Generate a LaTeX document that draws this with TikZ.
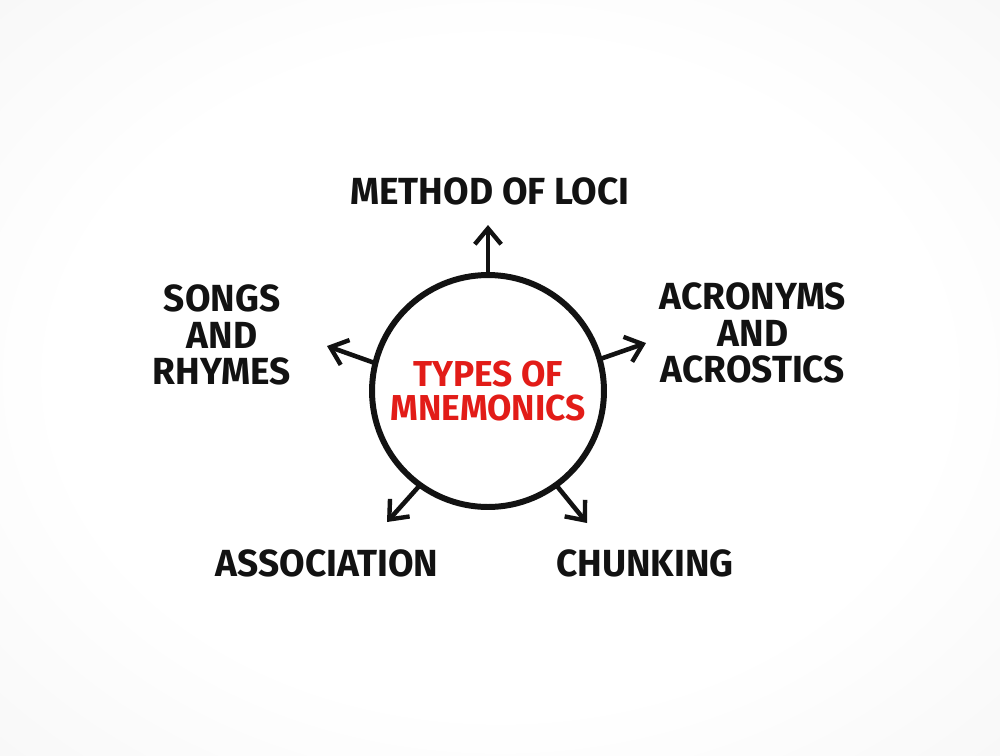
\documentclass[tikz,border=0pt]{standalone}
\usepackage{fontspec}
\setmainfont{Fira Sans}[FakeStretch=0.98]
\usetikzlibrary{arrows.meta}
\definecolor{mnInk}{RGB}{18,18,18}
\definecolor{mnRed}{RGB}{226,28,24}
\definecolor{mnBack}{RGB}{230,230,230}
\pgfdeclareradialshading{mnGlow}{\pgfpoint{0bp}{0bp}}{color(0bp)=(white); color(22bp)=(white); color(70bp)=(mnBack); color(100bp)=(mnBack)}

\begin{document}
\begin{tikzpicture}[x=0.02cm, y=-0.02cm,
  leaf/.style={font=\fontsize{21.5}{21}\selectfont\bfseries, text=mnInk, align=center, inner sep=0pt},
  spoke/.style={-{Straight Barb[length=9pt, width=15pt, line width=2.5pt]}, draw=mnInk, line width=2.6pt, line cap=round}]
  % Background
  \shade[shading=mnGlow] (0,0) rectangle (1000,755);

  % Hub
  \node[circle, draw=mnInk, line width=3.4pt, minimum size=4.64cm, inner sep=0pt,
        font=\fontsize{20.5}{19.5}\selectfont\bfseries, text=mnRed, align=center]
    (hub) at (488,391) {TYPES OF\\MNEMONICS};

  % Types
  \node[leaf] (loci) at (490,191) {METHOD OF LOCI};
  \node[leaf] (songs) at (222,335) {SONGS\\AND\\RHYMES};
  \node[leaf] (acro) at (753,333) {ACRONYMS\\AND\\ACROSTICS};
  \node[leaf] (assoc) at (327,563) {ASSOCIATION};
  \node[leaf] (chunk) at (645,563) {CHUNKING};

  % Arrow tips
  \coordinate (lociTip) at (488,225);
  \coordinate (songsTip) at (327,346);
  \coordinate (acroTip) at (646,343);
  \coordinate (assocTip) at (387,522);
  \coordinate (chunkTip) at (587,523);

  % Spokes
  \draw[spoke] (hub.90) -- (lociTip);
  \draw[spoke] (hub.166) -- (songsTip);
  \draw[spoke] (hub.16) -- (acroTip);
  \draw[spoke] (hub.234) -- (assocTip);
  \draw[spoke] (hub.306) -- (chunkTip);
\end{tikzpicture}
\end{document}
